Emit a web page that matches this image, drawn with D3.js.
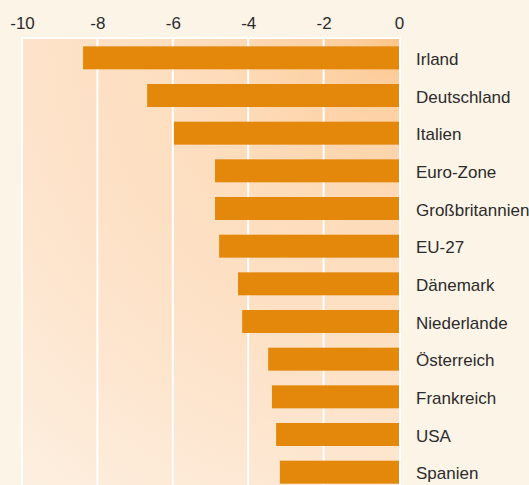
<!DOCTYPE html>
<html>
<head>
<meta charset="utf-8">
<script src="https://cdn.jsdelivr.net/npm/d3@7"></script>
<style>
  html, body { margin: 0; padding: 0; background: #fdf4e8; }
  svg { display: block; }
</style>
</head>
<body>
<script>
const categories = ["Irland", "Deutschland", "Italien", "Euro-Zone", "Großbritannien", "EU-27",
  "Dänemark", "Niederlande", "Österreich", "Frankreich", "USA", "Spanien"];
const values = [-8.38, -6.68, -5.97, -4.88, -4.88, -4.77, -4.27, -4.16, -3.47, -3.37, -3.26, -3.16];
const tickValues = [-10, -8, -6, -4, -2, 0];

(function () {
const W = 529, H = 485;
const svg = d3.select("body").append("svg").attr("width", W).attr("height", H);

const pLeft = 22, pRight = 400, pTop = 38;
const x = d3.scaleLinear().domain([-10, 0]).range([pLeft, 399]);
const y = d3.scaleBand().domain(categories).range([39, 491]).paddingInner(0.39).paddingOuter(0.195);

const defs = svg.append("defs");
const grad = defs.append("radialGradient").attr("id", "bg")
  .attr("gradientUnits", "userSpaceOnUse")
  .attr("cx", 400).attr("cy", 38).attr("r", 620);
[[0, "#fcc487"], [0.08, "#fdcf9f"], [0.3, "#fddcbb"], [0.6, "#fde3ca"], [0.8, "#fdead7"], [1, "#fdf1e3"]]
  .forEach(([o, c]) => grad.append("stop").attr("offset", o).attr("stop-color", c));

svg.append("rect").attr("x", pLeft).attr("y", pTop).attr("width", pRight - pLeft).attr("height", H - pTop)
  .attr("fill", "url(#bg)");

// gridlines
const g = svg.append("g");
g.selectAll("line.grid").data(tickValues).join("line")
  .attr("class", "grid")
  .attr("x1", d => x(d) + (d === 0 ? 1 : 0)).attr("x2", d => x(d) + (d === 0 ? 1 : 0))
  .attr("y1", pTop).attr("y2", H)
  .attr("stroke", "#ffffff").attr("stroke-width", 2);
g.append("line").attr("x1", pLeft - 1).attr("x2", pRight + 1).attr("y1", pTop).attr("y2", pTop)
  .attr("stroke", "#ffffff").attr("stroke-width", 2);

// bars
svg.append("g").selectAll("rect").data(values).join("rect")
  .attr("x", d => x(d))
  .attr("y", (d, i) => y(categories[i]))
  .attr("width", d => x(0) - x(d))
  .attr("height", y.bandwidth())
  .attr("fill", "#e3880b");

// axis at top
const axis = d3.axisTop(x).tickValues(tickValues).tickSize(0).tickPadding(0)
  .tickFormat(d => String(d));
const ag = svg.append("g").attr("transform", "translate(0,29)").call(axis);
ag.select(".domain").remove();
ag.selectAll("text")
  .attr("dy", 0)
  .attr("y", 0)
  .attr("fill", "#2b2b2b")
  .style("font-family", "'Liberation Sans', Arial, sans-serif")
  .style("font-size", "17px");

// category labels
svg.append("g").selectAll("text").data(categories).join("text")
  .attr("x", 416)
  .attr("y", d => y(d) + y.bandwidth() / 2 + 7)
  .attr("fill", "#2b2b2b")
  .style("font-family", "'Liberation Sans', Arial, sans-serif")
  .style("font-size", "17px")
  .text(d => d);
})();
</script>
</body>
</html>
